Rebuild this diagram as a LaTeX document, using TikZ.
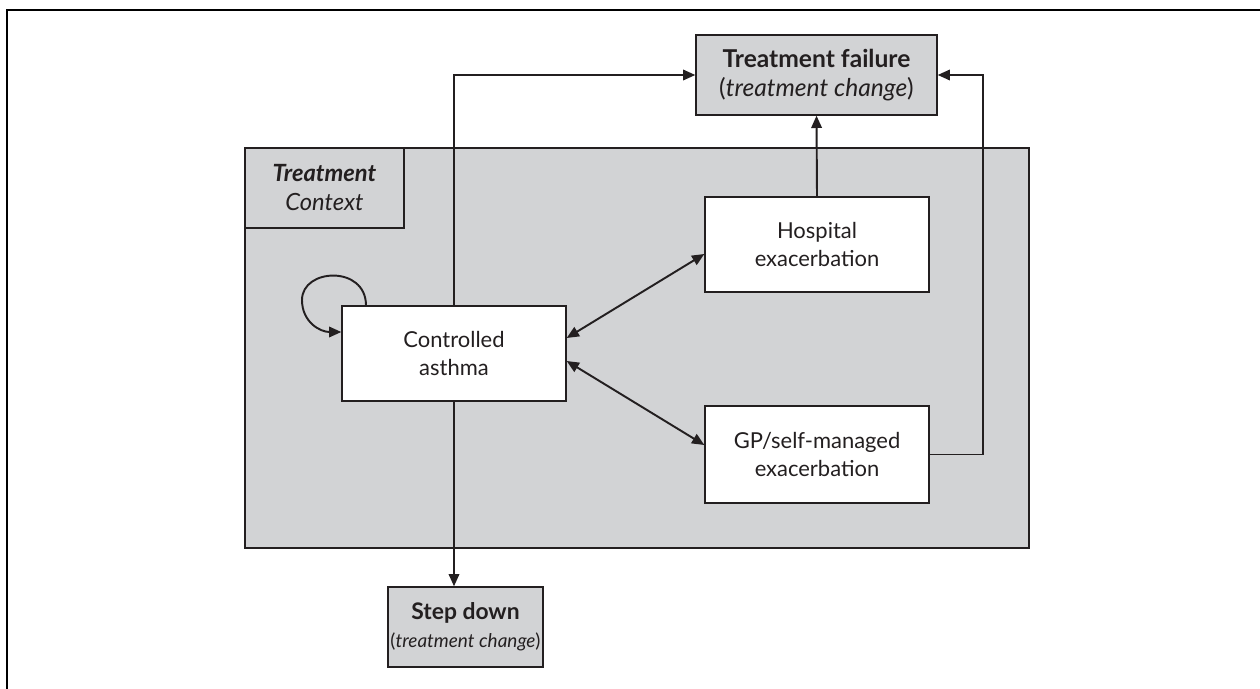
\documentclass[tikz,border=0pt]{standalone}
\usepackage{fontspec}
\setmainfont{Lato}
\usetikzlibrary{arrows.meta}
\definecolor{panel}{RGB}{210,211,213}
\definecolor{ink}{RGB}{35,31,32}
\begin{document}
\begin{tikzpicture}[x=0.02cm,y=-0.02cm,
  every node/.style={font=\fontsize{12.5}{15.5}\selectfont, text=ink},
  whitebox/.style={draw=ink, line width=0.8pt, fill=white, align=center, inner sep=0pt, minimum width=4.48cm, minimum height=1.9cm},
  graybox/.style={draw=ink, line width=0.8pt, fill=panel, align=center, inner sep=0pt},
  conn/.style={draw=ink, line width=1.1pt, -{Triangle[length=7pt,width=6pt]}},
  dconn/.style={draw=ink, line width=1.1pt, {Triangle[length=7pt,width=6pt]}-{Triangle[length=7pt,width=6pt]}}]
\useasboundingbox (0,0) rectangle (1260,689);
\fill[white] (0,0) rectangle (1260,689);
% outer frame (top and left edges)
\coordinate (fbl) at (7,689);
\coordinate (ftl) at (7,10);
\coordinate (ftr) at (1260,10);
\draw[black, line width=1.2pt] (fbl) -- (ftl) -- (ftr);
% treatment context panel
\node[graybox, minimum width=15.68cm, minimum height=8cm] (panel) at (637,348) {};
\node[graybox, minimum width=3.18cm, minimum height=1.6cm, font=\fontsize{13.5}{16.5}\selectfont] (ctx) at (324.5,188) {\textbf{\textit{Treatment}}\\\textit{Context}};
% states
\node[whitebox] (ca) at (454,353.5) {Controlled\\asthma};
\node[whitebox] (hosp) at (817,244.5) {Hospital\\exacerbation};
\node[whitebox, minimum height=1.94cm] (gp) at (817,454.5) {GP/self-managed\\exacerbation};
\node[graybox, minimum width=4.82cm, minimum height=1.6cm, font=\fontsize{14}{16.5}\selectfont] (tf) at (816.5,75) {\textbf{Treatment failure}\\(\textit{treatment change})};
\node[graybox, minimum width=3.1cm, minimum height=1.6cm, font=\fontsize{10.8}{16}\selectfont] (sd) at (465.5,627) {{\fontsize{13}{16}\selectfont\textbf{Step down}}\\(\textit{treatment change})};
% connectors
\draw[conn] (ca.north) |- (tf.west);
\draw[conn] (ca.south) -- (ca.south |- sd.north);
\draw[conn] (hosp.north) -- (tf.south);
\coordinate (gpturn) at (983,454.5);
\draw[conn] (gp.east) -- (gpturn) |- (tf.east);
\draw[dconn] (ca.east |- 0,338) -- (hosp.west |- 0,254);
\draw[dconn] (ca.east |- 0,361) -- (gp.west |- 0,445);
% self loop
\coordinate (lp1) at (366,305.5);
\coordinate (lp2) at (302,300);
\draw[conn] (lp1) .. controls (366,265) and (302,268) .. (lp2) .. controls (302,322) and (320,332) .. (ca.west |- 0,332);
\end{tikzpicture}
\end{document}
